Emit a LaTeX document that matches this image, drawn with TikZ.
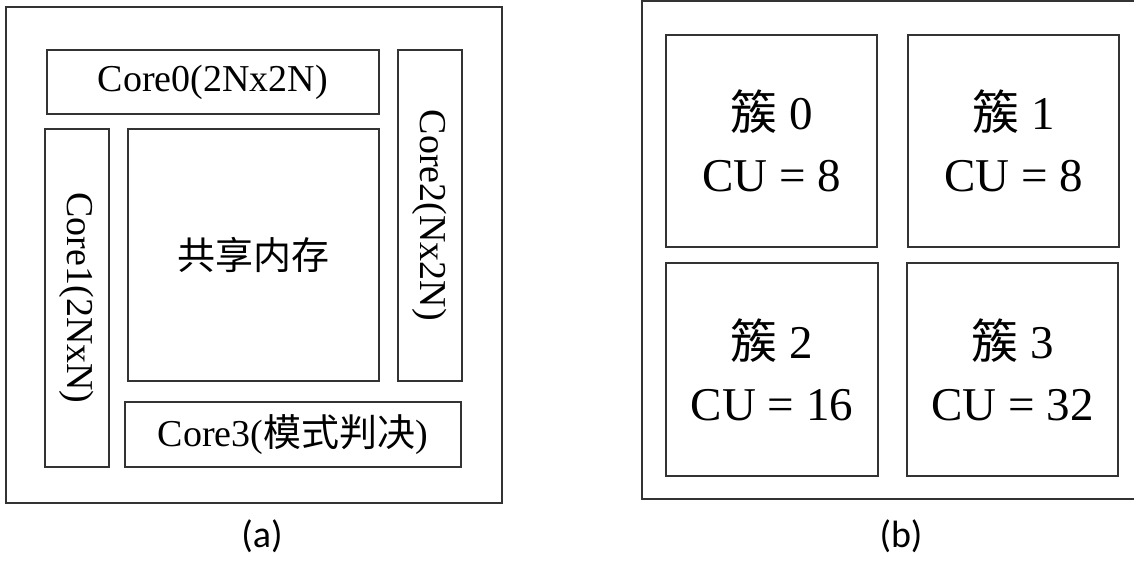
\documentclass[tikz,border=0pt]{standalone}
\usepackage{fontspec}
\setmainfont{Liberation Serif}
\newfontfamily\cjk{Noto Sans CJK SC}
\newfontfamily\capfont{Carlito}
\begin{document}
\begin{tikzpicture}[x=1pt,y=-1pt,
  box/.style={draw=black!80, line width=1.5pt, inner sep=0pt, outer sep=0pt, anchor=center},
  coretext/.style={font=\fontsize{38}{44}\selectfont},
  clustext/.style={font=\fontsize{47}{62}\selectfont, align=center},
  caplabel/.style={font=\capfont\fontsize{38}{44}\selectfont}]
\clip (0,0) rectangle (1134,560);
\fill[white] (0,0) rectangle (1134,560);
% panel (a)
\node[box, minimum width=496pt, minimum height=496pt] (outerA) at (254,255) {};
\node[box, coretext, minimum width=332pt, minimum height=64pt] (core0) at (213,82) {Core0(2Nx2N)};
\node[box, coretext, minimum width=64pt, minimum height=331pt] (core2) at (430,215.5) {\rotatebox{-90}{Core2(Nx2N)}};
\node[box, coretext, minimum width=64pt, minimum height=338pt] (core1) at (77,298) {\rotatebox{-90}{Core1(2NxN)}};
\node[box, coretext, minimum width=251pt, minimum height=252pt] (mem) at (253.5,255) {\cjk 共享内存};
\node[box, coretext, minimum width=336pt, minimum height=65pt] (core3) at (293,434.5) {Core3({\cjk 模式判决})};
\node[caplabel] (capa) at (262,536) {(a)};
% panel (b)
\node[box, minimum width=518pt, minimum height=498pt] (outerB) at (901,250) {};
\node[box, clustext, minimum width=211pt, minimum height=212pt] (c0) at (771.5,141) {{\cjk 簇} 0\\CU = 8};
\node[box, clustext, minimum width=211pt, minimum height=212pt] (c1) at (1013.5,141) {{\cjk 簇} 1\\CU = 8};
\node[box, clustext, minimum width=212pt, minimum height=213pt] (c2) at (772,369.5) {{\cjk 簇} 2\\CU = 16};
\node[box, clustext, minimum width=211pt, minimum height=213pt] (c3) at (1012.5,369.5) {{\cjk 簇} 3\\CU = 32};
\node[caplabel] (capb) at (901,536) {(b)};
\end{tikzpicture}
\end{document}
